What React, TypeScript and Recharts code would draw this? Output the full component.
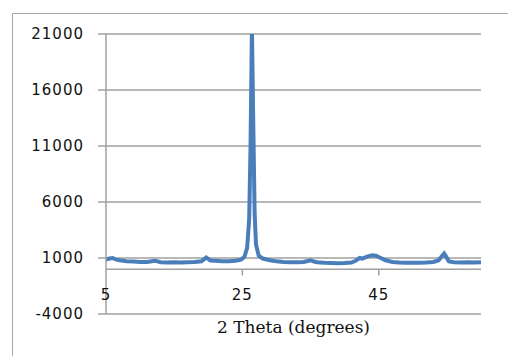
import React from 'react';
import { LineChart, Line, XAxis, YAxis, CartesianGrid, ReferenceLine, Label } from 'recharts';

// 2 theta positions (degrees) and intensities
const twoTheta = [
  5.0, 5.5, 6.0, 6.5, 7.0, 8.0, 9.0, 10.0, 11.0, 12.2, 13.0, 14.0, 15.0, 16.0, 17.0, 18.0, 19.0, 19.7, 20.3,
  21.0, 22.0, 23.0, 24.0, 24.8, 25.3, 25.7, 26.0, 26.2, 26.4, 26.6, 26.8, 27.0, 27.4, 28.0, 29.0, 30.0, 31.0,
  32.0, 33.0, 34.0, 35.0, 35.5, 36.0, 37.0, 38.0, 39.0, 40.0, 41.0, 41.6, 42.2, 42.6, 43.2, 44.0, 44.6, 45.3,
  46.0, 47.0, 48.0, 49.0, 50.0, 51.0, 52.0, 53.0, 53.8, 54.3, 54.6, 54.9, 55.3, 56.0, 57.0, 58.0, 59.0, 60.0,
];
const intensity = [
  850, 950, 1000, 850, 800, 720, 680, 650, 640, 760, 620, 600, 610, 600, 620, 650, 700, 1050, 780,
  750, 720, 720, 760, 850, 1100, 1900, 4500, 11000, 21500, 13000, 5000, 2200, 1200, 950, 800, 700, 650,
  620, 620, 650, 800, 680, 620, 580, 560, 540, 560, 600, 750, 1000, 950, 1100, 1250, 1200, 1000,
  800, 650, 600, 580, 570, 580, 600, 650, 800, 1200, 1400, 1100, 700, 620, 600, 610, 600, 620,
];
const yTicks = [-4000, 1000, 6000, 11000, 16000, 21000];
const xTicks = [5, 25, 45];
const xLabel = '2 Theta (degrees)';

const data = twoTheta.map((t, i) => ({ t, v: intensity[i] }));

const GRID = '#a0a0a0';

const XTick = (props: any) => {
  const { x, y, payload } = props;
  return (
    <text x={x} y={y - 19} textAnchor="middle" dominantBaseline="central"
      fill="#111" fontSize={15} fontFamily="DejaVu Sans" letterSpacing={1}>
      {payload.value}
    </text>
  );
};

const App = () => {
  return (
    <div style={{ position: 'absolute', left: 0, top: 0, width: 508, height: 356, overflow: 'hidden', background: '#fff' }}>
      <div style={{ position: 'absolute', left: 12, top: 13, width: 520, height: 380, border: '1px solid #a6a6a6' }} />
      <div style={{ position: 'absolute', left: 0, top: 0 }}>
        <LineChart width={508} height={356} data={data} margin={{ top: 34, right: 27, left: 0, bottom: 0 }}>
          <CartesianGrid vertical={false} stroke={GRID} strokeWidth={1.5} />
          <XAxis
            dataKey="t"
            type="number"
            domain={[5, 60]}
            ticks={xTicks}
            allowDataOverflow
            height={42}
            axisLine={false}
            tickLine={false}
            tickSize={0}
            tickMargin={0}
            tick={<XTick />}
          >
            <Label value={xLabel} position="insideBottom" offset={23}
              fill="#111" fontSize={17} fontFamily="DejaVu Serif" />
          </XAxis>
          <YAxis
            type="number"
            domain={[-4000, 21000]}
            ticks={yTicks}
            allowDataOverflow
            width={106}
            stroke={GRID}
            axisLine={{ stroke: GRID, strokeWidth: 1.5 }}
            tickLine={{ stroke: GRID, strokeWidth: 1.5 }}
            tickSize={8}
            tickMargin={14}
            tick={{ fill: '#111', fontSize: 15, fontFamily: 'DejaVu Sans', letterSpacing: 1 }}
          />
          <ReferenceLine y={0} stroke={GRID} strokeWidth={1.5} />
          <ReferenceLine segment={[{ x: 25, y: 0 }, { x: 25, y: -560 }]} stroke={GRID} strokeWidth={1.5} />
          <ReferenceLine segment={[{ x: 45, y: 0 }, { x: 45, y: -560 }]} stroke={GRID} strokeWidth={1.5} />
          <Line
            type="linear"
            dataKey="v"
            stroke="#4a7ebb"
            strokeWidth={4}
            dot={false}
            isAnimationActive={false}
          />
        </LineChart>
      </div>
    </div>
  );
};

export default App;
